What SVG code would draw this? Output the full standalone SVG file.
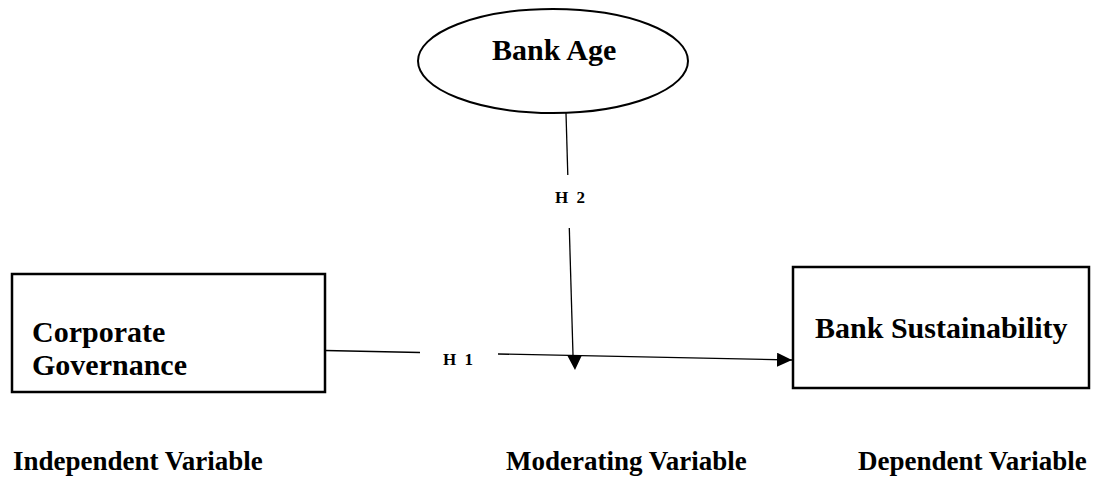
<svg xmlns="http://www.w3.org/2000/svg" width="1097" height="478" viewBox="0 0 1097 478">
<style>
.node{fill:#fff;stroke:#000;stroke-width:2.5}
.lbl{font-family:"Liberation Serif","Times New Roman",serif;font-weight:bold;font-size:30px;fill:#000}
.cap{font-family:"Liberation Serif","Times New Roman",serif;font-weight:bold;font-size:27px;fill:#000}
.h{font-family:"Liberation Serif","Times New Roman",serif;font-weight:bold;font-size:17px;fill:#000;word-spacing:4px}
.ln{stroke:#000;stroke-width:1.3;fill:none}
</style>
<defs>
<marker id="ah" viewBox="0 0 15 14" refX="15" refY="7" markerWidth="15" markerHeight="14" markerUnits="userSpaceOnUse" orient="auto">
<path d="M0,0 L15,7 L0,14 Z" fill="#000"/>
</marker>
</defs>
<rect width="1097" height="478" fill="#fff"/>
<g id="bank-age">
<ellipse class="node" cx="553" cy="61" rx="135" ry="52" style="stroke-width:2"/>
<text class="lbl" x="492" y="60">Bank Age</text>
</g>
<g id="corporate-governance">
<rect class="node" x="12" y="274" width="313" height="118"/>
<text class="lbl" x="32" y="342">Corporate</text>
<text class="lbl" x="32" y="375">Governance</text>
</g>
<g id="bank-sustainability">
<rect class="node" x="793" y="267" width="296" height="121"/>
<text class="lbl" x="815" y="338">Bank Sustainability</text>
</g>
<g id="connectors">
<line class="ln" x1="325" y1="350.5" x2="420" y2="352.5"/>
<line class="ln" x1="498" y1="354" x2="792" y2="360" marker-end="url(#ah)"/>
<line class="ln" x1="566" y1="113" x2="567.8" y2="175"/>
<line class="ln" x1="569.3" y1="228" x2="573" y2="355"/>
<path d="M567,355 L582,355 L575,370 Z" fill="#000"/>
<text class="h" x="443" y="365">H 1</text>
<text class="h" x="555" y="203">H 2</text>
</g>
<g id="captions">
<text class="cap" x="13" y="470">Independent Variable</text>
<text class="cap" x="506" y="470">Moderating Variable</text>
<text class="cap" x="858" y="470">Dependent Variable</text>
</g>
</svg>
